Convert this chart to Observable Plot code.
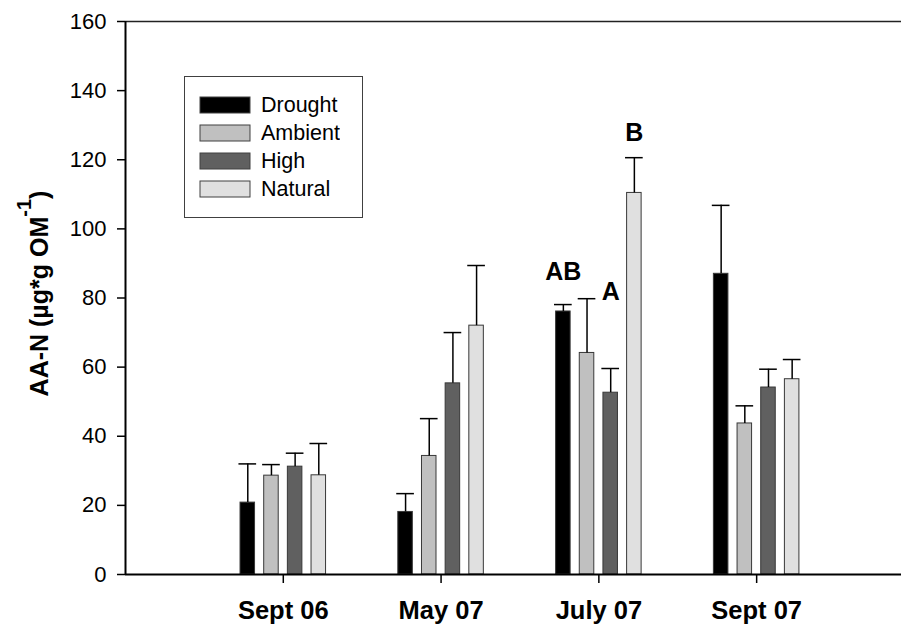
<!DOCTYPE html>
<html><head><meta charset="utf-8">
<script src="https://cdn.jsdelivr.net/npm/d3@7"></script>
<script src="https://cdn.jsdelivr.net/npm/@observablehq/plot@0.6"></script>
<style>
html,body{margin:0;padding:0;background:#fff;}
#chart{position:relative;width:901px;height:625px;overflow:hidden;}
#legend{position:absolute;left:184px;top:76px;width:179px;height:142px;box-sizing:border-box;border:1px solid #404040;padding:14px 0 0 15px;background:#fff;}
#legend div{font-family:"Liberation Sans",Arial,sans-serif;font-size:21.5px;color:#000;margin:0;line-height:28px;}
#legend [class$="-swatch"]{display:flex;align-items:center;height:28px;padding:0;}
#legend svg{margin-right:11px;overflow:visible;}
#legend svg rect{stroke:#404040;stroke-width:1px;}
</style></head>
<body><div id="chart"></div>
<script>
// ---- data ----
const categories = ["Sept 06", "May 07", "July 07", "Sept 07"];
const series = ["Drought", "Ambient", "High", "Natural"];
const colors = ["#000000", "#c0c0c0", "#606060", "#e0e0e0"];
const drought = [20.8, 18.1, 76.1, 87.0];
const droughtErr = [11.2, 5.3, 2.0, 19.8];
const ambient = [28.6, 34.3, 64.1, 43.7];
const ambientErr = [3.2, 10.8, 15.7, 5.1];
const high = [31.2, 55.3, 52.6, 54.1];
const highErr = [3.9, 14.7, 7.0, 5.3];
const natural = [28.7, 72.0, 110.4, 56.5];
const naturalErr = [9.2, 17.4, 10.2, 5.7];
const yTicks = [0, 20, 40, 60, 80, 100, 120, 140, 160];
const annotLabels = ["AB", "A", "B"];
const annotCategory = ["July 07", "July 07", "July 07"];
const annotSeries = ["Drought", "High", "Natural"];
const annotY = [87.5, 81.8, 127.7];
const yTitle = "AA-N (µg*g OM-1)";

// ---- build table ----
const values = [drought, ambient, high, natural];
const errors = [droughtErr, ambientErr, highErr, naturalErr];
const rows = [];
categories.forEach((c, i) => series.forEach((s, j) =>
  rows.push({category: c, ci: i + 1, series: s, sj: j, value: values[j][i], err: errors[j][i]})));
const annots = annotLabels.map((t, k) => ({
  text: t, ci: categories.indexOf(annotCategory[k]) + 1, sj: series.indexOf(annotSeries[k]), y: annotY[k]}));

const slot = 0.15, barW = 0.092, capW = 0.112;
const cx = d => d.ci + (d.sj - 1.5) * slot;
const font = '"Liberation Sans", Arial, Helvetica, sans-serif';

const svg = Plot.plot({
  width: 901, height: 625,
  marginLeft: 125, marginRight: 0, marginTop: 21, marginBottom: 51,
  x: {domain: [0, 4.918], axis: null},
  y: {domain: [0, 160], axis: null},
  color: {domain: series, range: colors},
  style: {fontFamily: font, background: "white", overflow: "visible"},
  marks: [
    Plot.ruleY([160], {stroke: "#222", strokeWidth: 1.5}),
    Plot.rectY(rows, {x1: d => cx(d) - barW / 2, x2: d => cx(d) + barW / 2, y1: 0, y2: "value",
      fill: "series", stroke: "#383838", strokeWidth: 1}),
    Plot.ruleX(rows, {x: cx, y1: "value", y2: d => d.value + d.err, stroke: "#000", strokeWidth: 1.5}),
    Plot.ruleY(rows, {y: d => d.value + d.err, x1: d => cx(d) - capW / 2, x2: d => cx(d) + capW / 2,
      stroke: "#000", strokeWidth: 1.5}),
    Plot.ruleY([0], {stroke: "#000", strokeWidth: 2}),
    Plot.ruleX([0], {y1: 0, y2: 160, stroke: "#000", strokeWidth: 2}),
    Plot.axisY({ticks: yTicks, tickSize: 8, tickPadding: 11, fontSize: 22, label: null, strokeWidth: 1.5}),
    Plot.axisX({ticks: [1, 2, 3, 4], tickFormat: i => categories[i - 1], tickSize: 9, tickPadding: 17,
      fontSize: 25.5, fontWeight: "bold", label: null, strokeWidth: 1.5}),
    Plot.text(annots, {x: cx, y: "y", text: "text", fontSize: 25, fontWeight: "bold", fill: "#000"}),
    Plot.text([yTitle], {text: d => d, frameAnchor: "left", textAnchor: "middle", rotate: -90, dx: -86, dy: -4.5,
      fontSize: 25, fontWeight: "bold", fill: "#000"})
  ]
});

// superscript for the y title
const NS = "http://www.w3.org/2000/svg";
svg.querySelectorAll("text").forEach(t => {
  if (t.textContent === yTitle) {
    t.textContent = "";
    t.appendChild(document.createTextNode("AA-N (µg*g OM"));
    const sup = document.createElementNS(NS, "tspan");
    sup.setAttribute("dy", "-17");
    sup.setAttribute("font-size", "20");
    sup.textContent = "-1";
    const close = document.createElementNS(NS, "tspan");
    close.setAttribute("dy", "17");
    close.textContent = ")";
    t.appendChild(sup);
    t.appendChild(close);
  }
});

const chart = document.getElementById("chart");
chart.appendChild(svg);
const legend = Plot.legend({color: {type: "ordinal", domain: series, range: colors},
  columns: 1, swatchWidth: 50, swatchHeight: 16});
const box = document.createElement("div");
box.id = "legend";
box.appendChild(legend);
chart.appendChild(box);
</script>
</body></html>
